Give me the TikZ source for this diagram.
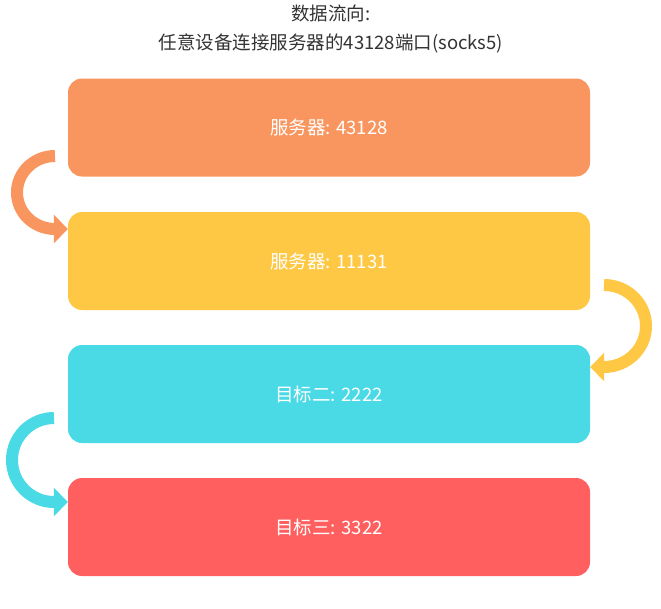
\documentclass[tikz,border=0pt]{standalone}
\usepackage{fontspec}
\setmainfont{Noto Sans CJK SC}
\usetikzlibrary{arrows.meta}
\definecolor{cOrange}{HTML}{F9965F}
\definecolor{cYellow}{HTML}{FFC844}
\definecolor{cCyan}{HTML}{4ADAE6}
\definecolor{cRed}{HTML}{FF5F5F}
\definecolor{cTitle}{HTML}{333333}
\tikzset{
  flowbox/.style={rounded corners=14pt, minimum width=522pt, minimum height=98pt,
    inner sep=0pt, text=white, font=\fontsize{18.5}{20}\selectfont},
  flowarrow/.style={line width=12pt, -{Triangle[length=14pt,width=28pt]}},
}
\begin{document}
\begin{tikzpicture}[x=1pt,y=1pt]
\useasboundingbox (0,0) rectangle (661,-608);
\node[text=cTitle, align=center, font=\fontsize{18.5}{29}\selectfont] (title) at (331,-29) {数据流向:\\任意设备连接服务器的43128端口(socks5)};
\node[flowbox, fill=cOrange] (b1) at (329,-127.5) {服务器: 43128};
\node[flowbox, fill=cYellow] (b2) at (329,-261) {服务器: 11131};
\node[flowbox, fill=cCyan]   (b3) at (329,-394) {目标二: 2222};
\node[flowbox, fill=cRed]    (b4) at (329,-527) {目标三: 3322};
% arrow 1
\coordinate (a1s) at (55,-156);
\draw[flowarrow, cOrange] (a1s) arc[start angle=90, end angle=270, x radius=38, y radius=36.5] -- (b2.west |- 0,-229);
% arrow 2
\coordinate (a2s) at (604,-285);
\draw[flowarrow, cYellow] (a2s) arc[start angle=90, end angle=-90, x radius=42, y radius=41] -- (b3.east |- 0,-367);
% arrow 3
\coordinate (a3s) at (54,-418);
\draw[flowarrow, cCyan] (a3s) arc[start angle=90, end angle=270, x radius=42, y radius=42] -- (b4.west |- 0,-502);
\end{tikzpicture}
\end{document}
